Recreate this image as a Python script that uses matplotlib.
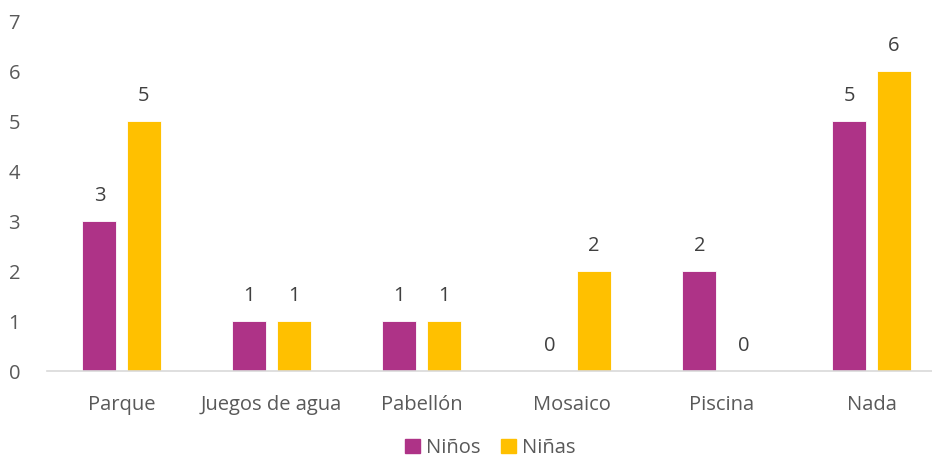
import numpy as np
import matplotlib.pyplot as plt
from matplotlib.patches import Patch

categorias = ["Parque", "Juegos de agua", "Pabellón", "Mosaico", "Piscina", "Nada"]
ninos = [3, 1, 1, 0, 2, 5]
ninas = [5, 1, 1, 2, 0, 6]

morado = "#AE3387"
amarillo = "#FFC000"
gris = "#595959"

plt.rcParams["font.family"] = ["Open Sans", "DejaVu Sans"]

fig = plt.figure(figsize=(9.32, 4.61), dpi=100)
ax = fig.add_axes([46.5 / 932, 90 / 461, 900 / 932, 350 / 461])

x = np.arange(len(categorias))
w = 0.227
off = 0.147
b1 = ax.bar(x - off, ninos, w, color=morado, edgecolor="white", linewidth=0.6)
b2 = ax.bar(x + off, ninas, w, color=amarillo, edgecolor="white", linewidth=0.6)

# etiquetas de valor sobre cada barra
for bars in (b1, b2):
    for r in bars:
        h = r.get_height()
        ax.annotate(str(int(h)), (r.get_x() + r.get_width() / 2, h),
                    xytext=(0, 18), textcoords="offset points",
                    ha="center", va="center", fontsize=14.5, color="#404040")

ax.set_xlim(-0.5, 5.5)
ax.set_ylim(0, 7)
ax.set_yticks(range(8))
ax.set_xticks(x)
ax.set_xticklabels(categorias)
ax.tick_params(axis="both", length=0, labelsize=14.5, colors=gris)
ax.tick_params(axis="y", pad=19)
ax.tick_params(axis="x", pad=17)
for s in ["top", "right", "left"]:
    ax.spines[s].set_visible(False)
ax.spines["bottom"].set_color("#D9D9D9")
ax.spines["bottom"].set_linewidth(1.2)

handles = [Patch(color=morado, label="Niños"), Patch(color=amarillo, label="Niñas")]
fig.legend(handles=handles, loc="center", bbox_to_anchor=(490 / 932, 1 - 448 / 461),
           ncol=2, frameon=False, fontsize=14.5, handlelength=0.75, handleheight=0.75,
           handletextpad=0.3, columnspacing=1.0, labelcolor=gris)

fig.savefig("out.png", dpi=100)
